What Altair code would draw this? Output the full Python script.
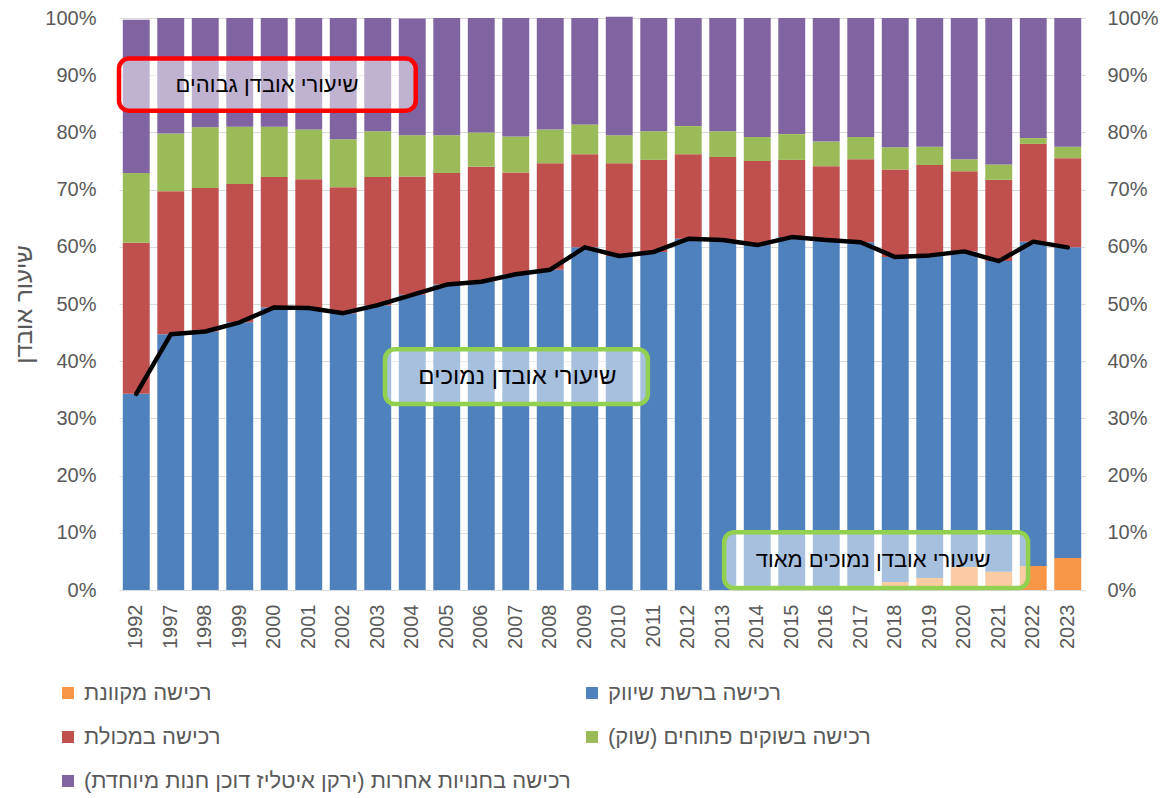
import altair as alt
import pandas as pd

years = ["1992", "1997", "1998", "1999", "2000", "2001", "2002", "2003", "2004", "2005",
         "2006", "2007", "2008", "2009", "2010", "2011", "2012", "2013", "2014", "2015",
         "2016", "2017", "2018", "2019", "2020", "2021", "2022", "2023"]

online = [0, 0, 0, 0, 0, 0, 0, 0, 0, 0, 0, 0, 0, 0, 0, 0, 0, 0, 0, 0, 0, 0,
          1.4, 2.1, 4.0, 3.2, 4.2, 5.6]
chain = [34.3, 44.7, 45.2, 46.8, 49.4, 49.3, 48.4, 49.8, 51.6, 53.4, 53.9, 55.2, 56.0, 59.9,
         58.4, 59.1, 61.4, 61.2, 60.3, 61.7, 61.2, 60.8, 56.8, 56.4, 55.2, 54.3, 56.7, 54.3]
grocery = [26.4, 25.0, 25.1, 24.2, 22.8, 22.5, 22.0, 22.4, 20.7, 19.5, 20.1, 17.8, 18.6, 16.3,
           16.2, 16.1, 14.8, 14.5, 14.7, 13.5, 12.9, 14.5, 15.3, 15.8, 14.0, 14.2, 17.1, 15.6]
market = [12.2, 10.1, 10.6, 10.0, 8.8, 8.7, 8.4, 8.0, 7.2, 6.6, 6.0, 6.3, 5.9, 5.2,
          4.9, 5.0, 4.9, 4.5, 4.2, 4.5, 4.3, 3.9, 3.9, 3.2, 2.1, 2.7, 1.0, 2.0]
other = [26.8, 20.2, 19.1, 19.0, 19.0, 19.5, 21.2, 19.8, 20.4, 20.5, 20.0, 20.7, 19.5, 18.6,
         20.7, 19.8, 18.9, 19.8, 20.8, 20.3, 21.6, 20.8, 22.6, 22.5, 24.7, 25.6, 21.0, 22.5]
chain_total = [34.3, 44.7, 45.2, 46.8, 49.4, 49.3, 48.4, 49.8, 51.6, 53.4, 53.9, 55.2, 56.0, 59.9,
               58.4, 59.1, 61.4, 61.2, 60.3, 61.7, 61.2, 60.8, 58.2, 58.5, 59.2, 57.5, 60.9, 59.9]

# stacking order (bottom to top)
series_names = ["רכישה מקוונת", "רכישה ברשת שיווק", "רכישה במכולת",
                "רכישה בשוקים פתוחים (שוק)", "רכישה בחנויות אחרות (ירקן איטליז דוכן חנות מיוחדת)"]
series_colors = ["#F79646", "#4F81BD", "#C0504D", "#9BBB59", "#8064A2"]
series_values = [online, chain, grocery, market, other]
# legend order (filled column by column)
legend_order = [0, 2, 4, 1, 3]

box_labels = ["שיעורי אובדן גבוהים", "שיעורי אובדן נמוכים", "שיעורי אובדן נמוכים מאוד"]
box_x0 = [0.0, 7.71, 17.54]
box_x1 = [8.6, 15.33, 26.35]
box_y0 = [0.838, 0.325, 0.0035]
box_y1 = [0.929, 0.421, 0.101]
box_tx = [4.29, 11.55, 21.86]
box_ty = [0.882, 0.372, 0.052]
box_fs = [22, 24, 22]
box_stroke = ["#FF0000", "#92D050", "#92D050"]

y_title = "שיעור אובדן"

FONT = "Liberation Sans"
GREY = "#595959"

rows = []
for si, (name, vals) in enumerate(zip(series_names, series_values)):
    for yr, v in zip(years, vals):
        rows.append({"year": yr, "series": name, "value": v / 100.0, "order": si})
df = pd.DataFrame(rows)

line_df = pd.DataFrame({"year": years, "total": [v / 100.0 for v in chain_total]})

box_df = pd.DataFrame({"x0": box_x0, "x1": box_x1, "y0": box_y0, "y1": box_y1,
                       "tx": box_tx, "ty": box_ty, "fs": box_fs, "label": box_labels,
                       "stroke": box_stroke})

xscale = alt.Scale(type="band", paddingInner=0.22, paddingOuter=0.11)
yscale = alt.Scale(domain=[0, 1], nice=False)

xaxis = alt.Axis(title=None, labelAngle=-90, labelFontSize=20, labelFont=FONT,
                 labelColor=GREY, labelPadding=14, ticks=False,
                 domainColor="#D9D9D9", labelBaseline="middle", labelAlign="right")

bars = alt.Chart(df).mark_bar().encode(
    x=alt.X("year:N", scale=xscale, sort=years, axis=xaxis),
    y=alt.Y("value:Q", stack="zero", scale=yscale,
            axis=alt.Axis(title=y_title, format=".0%", values=[i / 10 for i in range(11)],
                          labelFontSize=20, labelFont=FONT, labelColor=GREY, labelPadding=23,
                          ticks=False, domain=False, gridColor="#D9D9D9",
                          titleFont=FONT, titleFontSize=24, titleFontWeight="normal",
                          titleColor=GREY, titlePadding=8)),
    color=alt.Color("series:N",
                    scale=alt.Scale(domain=[series_names[i] for i in legend_order],
                                    range=[series_colors[i] for i in legend_order]),
                    legend=alt.Legend(title=None, orient="none", legendX=-62, legendY=664,
                                      columns=2, symbolType="square", symbolSize=144,
                                      symbolStrokeWidth=0, labelFont=FONT, labelFontSize=22,
                                      labelColor=GREY, labelLimit=800, rowPadding=22,
                                      columnPadding=10, padding=0, labelOffset=5)),
    order=alt.Order("order:Q", sort="ascending"),
)

line = alt.Chart(line_df).mark_line(color="black", strokeWidth=4.5, strokeCap="round",
                                    strokeJoin="round").encode(
    x=alt.X("year:N", scale=xscale, sort=years, bandPosition=0.5, axis=xaxis),
    y=alt.Y("total:Q", scale=yscale,
            axis=alt.Axis(orient="right", title=None, format=".0%",
                          values=[i / 10 for i in range(11)], labelFontSize=20,
                          labelFont=FONT, labelColor=GREY, labelPadding=22, ticks=False,
                          domain=False, grid=False)),
)

base = alt.layer(bars, line).resolve_axis(y="independent")

ax = alt.Scale(domain=[0, 28], nice=False, zero=False)

boxes = alt.Chart(box_df).mark_rect(cornerRadius=10, fill="white", fillOpacity=0.5,
                                    strokeWidth=4.5).encode(
    x=alt.X("x0:Q", scale=ax, axis=None),
    x2="x1:Q",
    y=alt.Y("y0:Q", scale=yscale, axis=None),
    y2="y1:Q",
    stroke=alt.Stroke("stroke:N", scale=None),
)

texts = alt.Chart(box_df).mark_text(font=FONT, color="black",
                                    align="center", baseline="middle").encode(
    x=alt.X("tx:Q", scale=ax, axis=None),
    y=alt.Y("ty:Q", scale=yscale, axis=None),
    size=alt.Size("fs:Q", scale=None, legend=None),
    text="label:N",
)

chart = alt.layer(base, boxes, texts).resolve_scale(x="independent").resolve_axis(
    y="independent").properties(
    width=966, height=572,
    autosize=alt.AutoSizeParams(type="none"),
    padding={"left": 111, "top": 10, "right": 76, "bottom": 208},
).configure_view(stroke=None).configure_axis(gridWidth=1)

chart.save("out.html", embed_options={"renderer": "svg", "actions": False})
